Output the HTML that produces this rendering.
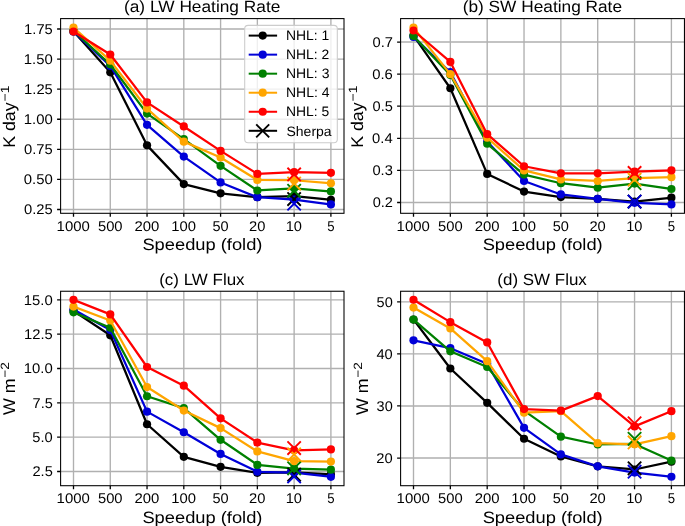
<!DOCTYPE html>
<html><head><meta charset="utf-8"><title>Speedup plots</title><style>html,body{margin:0;padding:0;background:#fff;overflow:hidden;}svg{display:block;will-change:transform;font-family:"Liberation Sans",sans-serif;}</style></head><body>
<svg width="685" height="526" viewBox="0 0 685 526" font-family="Liberation Sans, sans-serif" text-rendering="geometricPrecision" fill="#000"><rect width="685" height="526" fill="#fff"/><clipPath id="clipa"><rect x="60.60" y="18.60" width="283.40" height="194.70"/></clipPath>
<path d="M73.50 18.60V213.30M110.27 18.60V213.30M147.04 18.60V213.30M183.81 18.60V213.30M220.59 18.60V213.30M257.36 18.60V213.30M294.13 18.60V213.30M330.90 18.60V213.30M60.60 209.50H344.00M60.60 179.41H344.00M60.60 149.33H344.00M60.60 119.25H344.00M60.60 89.16H344.00M60.60 59.08H344.00M60.60 29.00H344.00" stroke="#b0b0b0" stroke-width="1.35" fill="none"/>
<path d="M73.50 213.30v3.5M110.27 213.30v3.5M147.04 213.30v3.5M183.81 213.30v3.5M220.59 213.30v3.5M257.36 213.30v3.5M294.13 213.30v3.5M330.90 213.30v3.5M60.60 209.50h-3.5M60.60 179.41h-3.5M60.60 149.33h-3.5M60.60 119.25h-3.5M60.60 89.16h-3.5M60.60 59.08h-3.5M60.60 29.00h-3.5" stroke="#000" stroke-width="1.3" fill="none"/>
<g clip-path="url(#clipa)">
<polyline points="73.50,31.41 110.27,72.32 147.04,145.36 183.81,184.11 220.59,193.37 257.36,197.22 294.13,196.02 330.90,199.75" fill="none" stroke="#000000" stroke-width="2.25" stroke-linejoin="round" stroke-linecap="square"/>
<circle cx="73.50" cy="31.41" r="4.1" fill="#000000"/>
<circle cx="110.27" cy="72.32" r="4.1" fill="#000000"/>
<circle cx="147.04" cy="145.36" r="4.1" fill="#000000"/>
<circle cx="183.81" cy="184.11" r="4.1" fill="#000000"/>
<circle cx="220.59" cy="193.37" r="4.1" fill="#000000"/>
<circle cx="257.36" cy="197.22" r="4.1" fill="#000000"/>
<circle cx="294.13" cy="196.02" r="4.1" fill="#000000"/>
<circle cx="330.90" cy="199.75" r="4.1" fill="#000000"/>
<polyline points="73.50,31.41 110.27,65.94 147.04,124.78 183.81,156.55 220.59,182.42 257.36,197.22 294.13,199.51 330.90,204.44" fill="none" stroke="#0000d8" stroke-width="2.25" stroke-linejoin="round" stroke-linecap="square"/>
<circle cx="73.50" cy="31.41" r="4.1" fill="#0000d8"/>
<circle cx="110.27" cy="65.94" r="4.1" fill="#0000d8"/>
<circle cx="147.04" cy="124.78" r="4.1" fill="#0000d8"/>
<circle cx="183.81" cy="156.55" r="4.1" fill="#0000d8"/>
<circle cx="220.59" cy="182.42" r="4.1" fill="#0000d8"/>
<circle cx="257.36" cy="197.22" r="4.1" fill="#0000d8"/>
<circle cx="294.13" cy="199.51" r="4.1" fill="#0000d8"/>
<circle cx="330.90" cy="204.44" r="4.1" fill="#0000d8"/>
<polyline points="73.50,30.80 110.27,64.50 147.04,113.59 183.81,139.10 220.59,165.82 257.36,190.48 294.13,188.32 330.90,191.45" fill="none" stroke="#008000" stroke-width="2.25" stroke-linejoin="round" stroke-linecap="square"/>
<circle cx="73.50" cy="30.80" r="4.1" fill="#008000"/>
<circle cx="110.27" cy="64.50" r="4.1" fill="#008000"/>
<circle cx="147.04" cy="113.59" r="4.1" fill="#008000"/>
<circle cx="183.81" cy="139.10" r="4.1" fill="#008000"/>
<circle cx="220.59" cy="165.82" r="4.1" fill="#008000"/>
<circle cx="257.36" cy="190.48" r="4.1" fill="#008000"/>
<circle cx="294.13" cy="188.32" r="4.1" fill="#008000"/>
<circle cx="330.90" cy="191.45" r="4.1" fill="#008000"/>
<polyline points="73.50,27.56 110.27,60.65 147.04,108.54 183.81,141.63 220.59,157.51 257.36,179.89 294.13,180.25 330.90,183.26" fill="none" stroke="#ffa500" stroke-width="2.25" stroke-linejoin="round" stroke-linecap="square"/>
<circle cx="73.50" cy="27.56" r="4.1" fill="#ffa500"/>
<circle cx="110.27" cy="60.65" r="4.1" fill="#ffa500"/>
<circle cx="147.04" cy="108.54" r="4.1" fill="#ffa500"/>
<circle cx="183.81" cy="141.63" r="4.1" fill="#ffa500"/>
<circle cx="220.59" cy="157.51" r="4.1" fill="#ffa500"/>
<circle cx="257.36" cy="179.89" r="4.1" fill="#ffa500"/>
<circle cx="294.13" cy="180.25" r="4.1" fill="#ffa500"/>
<circle cx="330.90" cy="183.26" r="4.1" fill="#ffa500"/>
<polyline points="73.50,31.53 110.27,54.51 147.04,102.40 183.81,126.47 220.59,150.89 257.36,173.88 294.13,172.19 330.90,172.79" fill="none" stroke="#ff0000" stroke-width="2.25" stroke-linejoin="round" stroke-linecap="square"/>
<circle cx="73.50" cy="31.53" r="4.1" fill="#ff0000"/>
<circle cx="110.27" cy="54.51" r="4.1" fill="#ff0000"/>
<circle cx="147.04" cy="102.40" r="4.1" fill="#ff0000"/>
<circle cx="183.81" cy="126.47" r="4.1" fill="#ff0000"/>
<circle cx="220.59" cy="150.89" r="4.1" fill="#ff0000"/>
<circle cx="257.36" cy="173.88" r="4.1" fill="#ff0000"/>
<circle cx="294.13" cy="172.19" r="4.1" fill="#ff0000"/>
<circle cx="330.90" cy="172.79" r="4.1" fill="#ff0000"/>
<path d="M287.43 192.33L300.83 205.73M287.43 205.73L300.83 192.33" stroke="#000000" stroke-width="1.9" fill="none"/>
<path d="M287.43 197.02L300.83 210.42M287.43 210.42L300.83 197.02" stroke="#0000d8" stroke-width="1.9" fill="none"/>
<path d="M287.43 184.14L300.83 197.54M287.43 197.54L300.83 184.14" stroke="#008000" stroke-width="1.9" fill="none"/>
<path d="M287.43 176.92L300.83 190.32M287.43 190.32L300.83 176.92" stroke="#ffa500" stroke-width="1.9" fill="none"/>
<path d="M287.43 167.78L300.83 181.18M287.43 181.18L300.83 167.78" stroke="#ff0000" stroke-width="1.9" fill="none"/>
</g>
<rect x="60.60" y="18.60" width="283.40" height="194.70" fill="none" stroke="#000" stroke-width="1.07"/>
<text x="56.61" y="230.80" font-size="14.09" textLength="33.24" lengthAdjust="spacingAndGlyphs">1000</text>
<text x="97.94" y="230.80" font-size="14.09" textLength="24.65" lengthAdjust="spacingAndGlyphs">500</text>
<text x="134.53" y="230.80" font-size="14.09" textLength="24.86" lengthAdjust="spacingAndGlyphs">200</text>
<text x="171.17" y="230.80" font-size="14.09" textLength="24.75" lengthAdjust="spacingAndGlyphs">100</text>
<text x="212.50" y="230.80" font-size="14.09" textLength="16.17" lengthAdjust="spacingAndGlyphs">50</text>
<text x="249.09" y="230.80" font-size="14.09" textLength="16.38" lengthAdjust="spacingAndGlyphs">20</text>
<text x="285.73" y="230.80" font-size="14.09" textLength="16.26" lengthAdjust="spacingAndGlyphs">10</text>
<text x="327.23" y="230.80" font-size="14.09" textLength="7.37" lengthAdjust="spacingAndGlyphs">5</text>
<text x="24.05" y="214.44" font-size="14.09" textLength="28.77" lengthAdjust="spacingAndGlyphs">0.25</text>
<text x="23.77" y="184.36" font-size="14.09" textLength="29.02" lengthAdjust="spacingAndGlyphs">0.50</text>
<text x="24.05" y="154.28" font-size="14.09" textLength="28.77" lengthAdjust="spacingAndGlyphs">0.75</text>
<text x="23.80" y="124.20" font-size="14.09" textLength="28.98" lengthAdjust="spacingAndGlyphs">1.00</text>
<text x="24.09" y="94.11" font-size="14.09" textLength="28.73" lengthAdjust="spacingAndGlyphs">1.25</text>
<text x="23.80" y="64.03" font-size="14.09" textLength="28.98" lengthAdjust="spacingAndGlyphs">1.50</text>
<text x="24.09" y="33.95" font-size="14.09" textLength="28.73" lengthAdjust="spacingAndGlyphs">1.75</text>
<text x="123.97" y="11.90" font-size="16.21" textLength="156.36" lengthAdjust="spacingAndGlyphs">(a) LW Heating Rate</text>
<text x="142.42" y="249.80" font-size="16.42" textLength="120.05" lengthAdjust="spacingAndGlyphs">Speedup (fold)</text>
<g transform="translate(14.90 116.35) rotate(-90)">
<text x="-31.46" y="0.00" font-size="16.95" textLength="45.39" lengthAdjust="spacingAndGlyphs">K day</text>
<text x="14.91" y="-6.30" font-size="11.97" textLength="15.78" lengthAdjust="spacingAndGlyphs">−1</text>
</g>
<clipPath id="clipb"><rect x="400.60" y="18.60" width="283.85" height="194.70"/></clipPath>
<path d="M413.50 18.60V213.30M450.34 18.60V213.30M487.19 18.60V213.30M524.03 18.60V213.30M560.87 18.60V213.30M597.71 18.60V213.30M634.56 18.60V213.30M671.40 18.60V213.30M400.60 202.49H684.45M400.60 170.40H684.45M400.60 138.31H684.45M400.60 106.22H684.45M400.60 74.13H684.45M400.60 42.04H684.45" stroke="#b0b0b0" stroke-width="1.35" fill="none"/>
<path d="M413.50 213.30v3.5M450.34 213.30v3.5M487.19 213.30v3.5M524.03 213.30v3.5M560.87 213.30v3.5M597.71 213.30v3.5M634.56 213.30v3.5M671.40 213.30v3.5M400.60 202.49h-3.5M400.60 170.40h-3.5M400.60 138.31h-3.5M400.60 106.22h-3.5M400.60 74.13h-3.5M400.60 42.04h-3.5" stroke="#000" stroke-width="1.3" fill="none"/>
<g clip-path="url(#clipb)">
<polyline points="413.50,35.62 450.34,88.25 487.19,173.93 524.03,191.58 560.87,197.03 597.71,198.96 634.56,201.53 671.40,197.68" fill="none" stroke="#000000" stroke-width="2.25" stroke-linejoin="round" stroke-linecap="square"/>
<circle cx="413.50" cy="35.62" r="4.1" fill="#000000"/>
<circle cx="450.34" cy="88.25" r="4.1" fill="#000000"/>
<circle cx="487.19" cy="173.93" r="4.1" fill="#000000"/>
<circle cx="524.03" cy="191.58" r="4.1" fill="#000000"/>
<circle cx="560.87" cy="197.03" r="4.1" fill="#000000"/>
<circle cx="597.71" cy="198.96" r="4.1" fill="#000000"/>
<circle cx="634.56" cy="201.53" r="4.1" fill="#000000"/>
<circle cx="671.40" cy="197.68" r="4.1" fill="#000000"/>
<polyline points="413.50,36.91 450.34,72.20 487.19,141.52 524.03,180.99 560.87,194.47 597.71,198.96 634.56,202.81 671.40,204.42" fill="none" stroke="#0000d8" stroke-width="2.25" stroke-linejoin="round" stroke-linecap="square"/>
<circle cx="413.50" cy="36.91" r="4.1" fill="#0000d8"/>
<circle cx="450.34" cy="72.20" r="4.1" fill="#0000d8"/>
<circle cx="487.19" cy="141.52" r="4.1" fill="#0000d8"/>
<circle cx="524.03" cy="180.99" r="4.1" fill="#0000d8"/>
<circle cx="560.87" cy="194.47" r="4.1" fill="#0000d8"/>
<circle cx="597.71" cy="198.96" r="4.1" fill="#0000d8"/>
<circle cx="634.56" cy="202.81" r="4.1" fill="#0000d8"/>
<circle cx="671.40" cy="204.42" r="4.1" fill="#0000d8"/>
<polyline points="413.50,35.94 450.34,75.09 487.19,143.77 524.03,174.57 560.87,183.24 597.71,187.73 634.56,183.56 671.40,189.01" fill="none" stroke="#008000" stroke-width="2.25" stroke-linejoin="round" stroke-linecap="square"/>
<circle cx="413.50" cy="35.94" r="4.1" fill="#008000"/>
<circle cx="450.34" cy="75.09" r="4.1" fill="#008000"/>
<circle cx="487.19" cy="143.77" r="4.1" fill="#008000"/>
<circle cx="524.03" cy="174.57" r="4.1" fill="#008000"/>
<circle cx="560.87" cy="183.24" r="4.1" fill="#008000"/>
<circle cx="597.71" cy="187.73" r="4.1" fill="#008000"/>
<circle cx="634.56" cy="183.56" r="4.1" fill="#008000"/>
<circle cx="671.40" cy="189.01" r="4.1" fill="#008000"/>
<polyline points="413.50,27.60 450.34,74.13 487.19,137.67 524.03,170.40 560.87,179.39 597.71,180.99 634.56,178.10 671.40,177.14" fill="none" stroke="#ffa500" stroke-width="2.25" stroke-linejoin="round" stroke-linecap="square"/>
<circle cx="413.50" cy="27.60" r="4.1" fill="#ffa500"/>
<circle cx="450.34" cy="74.13" r="4.1" fill="#ffa500"/>
<circle cx="487.19" cy="137.67" r="4.1" fill="#ffa500"/>
<circle cx="524.03" cy="170.40" r="4.1" fill="#ffa500"/>
<circle cx="560.87" cy="179.39" r="4.1" fill="#ffa500"/>
<circle cx="597.71" cy="180.99" r="4.1" fill="#ffa500"/>
<circle cx="634.56" cy="178.10" r="4.1" fill="#ffa500"/>
<circle cx="671.40" cy="177.14" r="4.1" fill="#ffa500"/>
<polyline points="413.50,30.49 450.34,61.94 487.19,134.14 524.03,166.23 560.87,173.29 597.71,173.29 634.56,171.68 671.40,170.40" fill="none" stroke="#ff0000" stroke-width="2.25" stroke-linejoin="round" stroke-linecap="square"/>
<circle cx="413.50" cy="30.49" r="4.1" fill="#ff0000"/>
<circle cx="450.34" cy="61.94" r="4.1" fill="#ff0000"/>
<circle cx="487.19" cy="134.14" r="4.1" fill="#ff0000"/>
<circle cx="524.03" cy="166.23" r="4.1" fill="#ff0000"/>
<circle cx="560.87" cy="173.29" r="4.1" fill="#ff0000"/>
<circle cx="597.71" cy="173.29" r="4.1" fill="#ff0000"/>
<circle cx="634.56" cy="171.68" r="4.1" fill="#ff0000"/>
<circle cx="671.40" cy="170.40" r="4.1" fill="#ff0000"/>
<path d="M627.86 194.83L641.26 208.23M627.86 208.23L641.26 194.83" stroke="#000000" stroke-width="1.9" fill="none"/>
<path d="M627.86 194.83L641.26 208.23M627.86 208.23L641.26 194.83" stroke="#0000d8" stroke-width="1.9" fill="none"/>
<path d="M627.86 176.54L641.26 189.94M627.86 189.94L641.26 176.54" stroke="#008000" stroke-width="1.9" fill="none"/>
<path d="M627.86 173.01L641.26 186.41M627.86 186.41L641.26 173.01" stroke="#ffa500" stroke-width="1.9" fill="none"/>
<path d="M627.86 166.27L641.26 179.67M627.86 179.67L641.26 166.27" stroke="#ff0000" stroke-width="1.9" fill="none"/>
</g>
<rect x="400.60" y="18.60" width="283.85" height="194.70" fill="none" stroke="#000" stroke-width="1.07"/>
<text x="396.61" y="230.80" font-size="14.09" textLength="33.24" lengthAdjust="spacingAndGlyphs">1000</text>
<text x="438.01" y="230.80" font-size="14.09" textLength="24.65" lengthAdjust="spacingAndGlyphs">500</text>
<text x="474.68" y="230.80" font-size="14.09" textLength="24.86" lengthAdjust="spacingAndGlyphs">200</text>
<text x="511.38" y="230.80" font-size="14.09" textLength="24.75" lengthAdjust="spacingAndGlyphs">100</text>
<text x="552.78" y="230.80" font-size="14.09" textLength="16.17" lengthAdjust="spacingAndGlyphs">50</text>
<text x="589.44" y="230.80" font-size="14.09" textLength="16.38" lengthAdjust="spacingAndGlyphs">20</text>
<text x="626.16" y="230.80" font-size="14.09" textLength="16.26" lengthAdjust="spacingAndGlyphs">10</text>
<text x="667.73" y="230.80" font-size="14.09" textLength="7.37" lengthAdjust="spacingAndGlyphs">5</text>
<text x="372.69" y="207.44" font-size="14.09" textLength="20.24" lengthAdjust="spacingAndGlyphs">0.2</text>
<text x="372.42" y="175.35" font-size="14.09" textLength="20.43" lengthAdjust="spacingAndGlyphs">0.3</text>
<text x="372.10" y="143.26" font-size="14.09" textLength="20.53" lengthAdjust="spacingAndGlyphs">0.4</text>
<text x="372.52" y="111.17" font-size="14.09" textLength="20.30" lengthAdjust="spacingAndGlyphs">0.5</text>
<text x="372.19" y="79.08" font-size="14.09" textLength="20.67" lengthAdjust="spacingAndGlyphs">0.6</text>
<text x="372.49" y="46.99" font-size="14.09" textLength="20.45" lengthAdjust="spacingAndGlyphs">0.7</text>
<text x="462.70" y="11.90" font-size="16.21" textLength="159.34" lengthAdjust="spacingAndGlyphs">(b) SW Heating Rate</text>
<text x="482.65" y="249.80" font-size="16.42" textLength="120.05" lengthAdjust="spacingAndGlyphs">Speedup (fold)</text>
<g transform="translate(363.00 116.35) rotate(-90)">
<text x="-31.46" y="0.00" font-size="16.95" textLength="45.39" lengthAdjust="spacingAndGlyphs">K day</text>
<text x="14.91" y="-6.30" font-size="11.97" textLength="15.78" lengthAdjust="spacingAndGlyphs">−1</text>
</g>
<clipPath id="clipc"><rect x="60.60" y="291.25" width="283.40" height="194.45"/></clipPath>
<path d="M73.50 291.25V485.70M110.27 291.25V485.70M147.04 291.25V485.70M183.81 291.25V485.70M220.59 291.25V485.70M257.36 291.25V485.70M294.13 291.25V485.70M330.90 291.25V485.70M60.60 471.50H344.00M60.60 437.17H344.00M60.60 402.84H344.00M60.60 368.51H344.00M60.60 334.18H344.00M60.60 299.85H344.00" stroke="#b0b0b0" stroke-width="1.35" fill="none"/>
<path d="M73.50 485.70v3.5M110.27 485.70v3.5M147.04 485.70v3.5M183.81 485.70v3.5M220.59 485.70v3.5M257.36 485.70v3.5M294.13 485.70v3.5M330.90 485.70v3.5M60.60 471.50h-3.5M60.60 437.17h-3.5M60.60 402.84h-3.5M60.60 368.51h-3.5M60.60 334.18h-3.5M60.60 299.85h-3.5" stroke="#000" stroke-width="1.3" fill="none"/>
<g clip-path="url(#clipc)">
<polyline points="73.50,310.84 110.27,335.28 147.04,424.26 183.81,456.81 220.59,466.83 257.36,472.87 294.13,472.32 330.90,474.38" fill="none" stroke="#000000" stroke-width="2.25" stroke-linejoin="round" stroke-linecap="square"/>
<circle cx="73.50" cy="310.84" r="4.1" fill="#000000"/>
<circle cx="110.27" cy="335.28" r="4.1" fill="#000000"/>
<circle cx="147.04" cy="424.26" r="4.1" fill="#000000"/>
<circle cx="183.81" cy="456.81" r="4.1" fill="#000000"/>
<circle cx="220.59" cy="466.83" r="4.1" fill="#000000"/>
<circle cx="257.36" cy="472.87" r="4.1" fill="#000000"/>
<circle cx="294.13" cy="472.32" r="4.1" fill="#000000"/>
<circle cx="330.90" cy="474.38" r="4.1" fill="#000000"/>
<polyline points="73.50,309.60 110.27,330.06 147.04,411.63 183.81,432.23 220.59,453.92 257.36,471.77 294.13,472.60 330.90,476.86" fill="none" stroke="#0000d8" stroke-width="2.25" stroke-linejoin="round" stroke-linecap="square"/>
<circle cx="73.50" cy="309.60" r="4.1" fill="#0000d8"/>
<circle cx="110.27" cy="330.06" r="4.1" fill="#0000d8"/>
<circle cx="147.04" cy="411.63" r="4.1" fill="#0000d8"/>
<circle cx="183.81" cy="432.23" r="4.1" fill="#0000d8"/>
<circle cx="220.59" cy="453.92" r="4.1" fill="#0000d8"/>
<circle cx="257.36" cy="471.77" r="4.1" fill="#0000d8"/>
<circle cx="294.13" cy="472.60" r="4.1" fill="#0000d8"/>
<circle cx="330.90" cy="476.86" r="4.1" fill="#0000d8"/>
<polyline points="73.50,312.35 110.27,327.73 147.04,396.25 183.81,408.06 220.59,439.78 257.36,464.91 294.13,468.62 330.90,469.71" fill="none" stroke="#008000" stroke-width="2.25" stroke-linejoin="round" stroke-linecap="square"/>
<circle cx="73.50" cy="312.35" r="4.1" fill="#008000"/>
<circle cx="110.27" cy="327.73" r="4.1" fill="#008000"/>
<circle cx="147.04" cy="396.25" r="4.1" fill="#008000"/>
<circle cx="183.81" cy="408.06" r="4.1" fill="#008000"/>
<circle cx="220.59" cy="439.78" r="4.1" fill="#008000"/>
<circle cx="257.36" cy="464.91" r="4.1" fill="#008000"/>
<circle cx="294.13" cy="468.62" r="4.1" fill="#008000"/>
<circle cx="330.90" cy="469.71" r="4.1" fill="#008000"/>
<polyline points="73.50,306.58 110.27,320.45 147.04,387.05 183.81,410.53 220.59,428.11 257.36,451.45 294.13,461.20 330.90,461.61" fill="none" stroke="#ffa500" stroke-width="2.25" stroke-linejoin="round" stroke-linecap="square"/>
<circle cx="73.50" cy="306.58" r="4.1" fill="#ffa500"/>
<circle cx="110.27" cy="320.45" r="4.1" fill="#ffa500"/>
<circle cx="147.04" cy="387.05" r="4.1" fill="#ffa500"/>
<circle cx="183.81" cy="410.53" r="4.1" fill="#ffa500"/>
<circle cx="220.59" cy="428.11" r="4.1" fill="#ffa500"/>
<circle cx="257.36" cy="451.45" r="4.1" fill="#ffa500"/>
<circle cx="294.13" cy="461.20" r="4.1" fill="#ffa500"/>
<circle cx="330.90" cy="461.61" r="4.1" fill="#ffa500"/>
<polyline points="73.50,299.85 110.27,314.41 147.04,367.00 183.81,385.68 220.59,418.36 257.36,442.53 294.13,450.35 330.90,449.39" fill="none" stroke="#ff0000" stroke-width="2.25" stroke-linejoin="round" stroke-linecap="square"/>
<circle cx="73.50" cy="299.85" r="4.1" fill="#ff0000"/>
<circle cx="110.27" cy="314.41" r="4.1" fill="#ff0000"/>
<circle cx="147.04" cy="367.00" r="4.1" fill="#ff0000"/>
<circle cx="183.81" cy="385.68" r="4.1" fill="#ff0000"/>
<circle cx="220.59" cy="418.36" r="4.1" fill="#ff0000"/>
<circle cx="257.36" cy="442.53" r="4.1" fill="#ff0000"/>
<circle cx="294.13" cy="450.35" r="4.1" fill="#ff0000"/>
<circle cx="330.90" cy="449.39" r="4.1" fill="#ff0000"/>
<path d="M287.43 467.96L300.83 481.36M287.43 481.36L300.83 467.96" stroke="#000000" stroke-width="1.9" fill="none"/>
<path d="M287.43 469.74L300.83 483.14M287.43 483.14L300.83 469.74" stroke="#0000d8" stroke-width="1.9" fill="none"/>
<path d="M287.43 461.64L300.83 475.04M287.43 475.04L300.83 461.64" stroke="#008000" stroke-width="1.9" fill="none"/>
<path d="M287.43 447.77L300.83 461.17M287.43 461.17L300.83 447.77" stroke="#ffa500" stroke-width="1.9" fill="none"/>
<path d="M287.43 441.32L300.83 454.72M287.43 454.72L300.83 441.32" stroke="#ff0000" stroke-width="1.9" fill="none"/>
</g>
<rect x="60.60" y="291.25" width="283.40" height="194.45" fill="none" stroke="#000" stroke-width="1.07"/>
<text x="56.61" y="503.40" font-size="14.09" textLength="33.24" lengthAdjust="spacingAndGlyphs">1000</text>
<text x="97.94" y="503.40" font-size="14.09" textLength="24.65" lengthAdjust="spacingAndGlyphs">500</text>
<text x="134.53" y="503.40" font-size="14.09" textLength="24.86" lengthAdjust="spacingAndGlyphs">200</text>
<text x="171.17" y="503.40" font-size="14.09" textLength="24.75" lengthAdjust="spacingAndGlyphs">100</text>
<text x="212.50" y="503.40" font-size="14.09" textLength="16.17" lengthAdjust="spacingAndGlyphs">50</text>
<text x="249.09" y="503.40" font-size="14.09" textLength="16.38" lengthAdjust="spacingAndGlyphs">20</text>
<text x="285.73" y="503.40" font-size="14.09" textLength="16.26" lengthAdjust="spacingAndGlyphs">10</text>
<text x="327.23" y="503.40" font-size="14.09" textLength="7.37" lengthAdjust="spacingAndGlyphs">5</text>
<text x="32.45" y="476.45" font-size="14.09" textLength="20.37" lengthAdjust="spacingAndGlyphs">2.5</text>
<text x="32.37" y="442.12" font-size="14.09" textLength="20.41" lengthAdjust="spacingAndGlyphs">5.0</text>
<text x="32.56" y="407.79" font-size="14.09" textLength="20.26" lengthAdjust="spacingAndGlyphs">7.5</text>
<text x="23.80" y="373.46" font-size="14.09" textLength="28.98" lengthAdjust="spacingAndGlyphs">10.0</text>
<text x="24.09" y="339.13" font-size="14.09" textLength="28.73" lengthAdjust="spacingAndGlyphs">12.5</text>
<text x="23.80" y="304.80" font-size="14.09" textLength="28.98" lengthAdjust="spacingAndGlyphs">15.0</text>
<text x="159.15" y="284.70" font-size="16.21" textLength="85.43" lengthAdjust="spacingAndGlyphs">(c) LW Flux</text>
<text x="142.42" y="522.50" font-size="16.42" textLength="120.05" lengthAdjust="spacingAndGlyphs">Speedup (fold)</text>
<g transform="translate(15.30 388.88) rotate(-90)">
<text x="-26.23" y="0.00" font-size="16.95" textLength="36.63" lengthAdjust="spacingAndGlyphs">W m</text>
<text x="11.14" y="-6.30" font-size="11.97" textLength="15.69" lengthAdjust="spacingAndGlyphs">−2</text>
</g>
<clipPath id="clipd"><rect x="400.60" y="291.25" width="283.85" height="194.45"/></clipPath>
<path d="M413.50 291.25V485.70M450.34 291.25V485.70M487.19 291.25V485.70M524.03 291.25V485.70M560.87 291.25V485.70M597.71 291.25V485.70M634.56 291.25V485.70M671.40 291.25V485.70M400.60 458.03H684.45M400.60 405.97H684.45M400.60 353.91H684.45M400.60 301.85H684.45" stroke="#b0b0b0" stroke-width="1.35" fill="none"/>
<path d="M413.50 485.70v3.5M450.34 485.70v3.5M487.19 485.70v3.5M524.03 485.70v3.5M560.87 485.70v3.5M597.71 485.70v3.5M634.56 485.70v3.5M671.40 485.70v3.5M400.60 458.03h-3.5M400.60 405.97h-3.5M400.60 353.91h-3.5M400.60 301.85h-3.5" stroke="#000" stroke-width="1.3" fill="none"/>
<g clip-path="url(#clipd)">
<polyline points="413.50,319.55 450.34,368.49 487.19,402.85 524.03,438.77 560.87,456.47 597.71,466.36 634.56,469.48 671.40,461.67" fill="none" stroke="#000000" stroke-width="2.25" stroke-linejoin="round" stroke-linecap="square"/>
<circle cx="413.50" cy="319.55" r="4.1" fill="#000000"/>
<circle cx="450.34" cy="368.49" r="4.1" fill="#000000"/>
<circle cx="487.19" cy="402.85" r="4.1" fill="#000000"/>
<circle cx="524.03" cy="438.77" r="4.1" fill="#000000"/>
<circle cx="560.87" cy="456.47" r="4.1" fill="#000000"/>
<circle cx="597.71" cy="466.36" r="4.1" fill="#000000"/>
<circle cx="634.56" cy="469.48" r="4.1" fill="#000000"/>
<circle cx="671.40" cy="461.67" r="4.1" fill="#000000"/>
<polyline points="413.50,340.37 450.34,348.18 487.19,363.80 524.03,427.84 560.87,454.39 597.71,466.36 634.56,472.61 671.40,476.77" fill="none" stroke="#0000d8" stroke-width="2.25" stroke-linejoin="round" stroke-linecap="square"/>
<circle cx="413.50" cy="340.37" r="4.1" fill="#0000d8"/>
<circle cx="450.34" cy="348.18" r="4.1" fill="#0000d8"/>
<circle cx="487.19" cy="363.80" r="4.1" fill="#0000d8"/>
<circle cx="524.03" cy="427.84" r="4.1" fill="#0000d8"/>
<circle cx="560.87" cy="454.39" r="4.1" fill="#0000d8"/>
<circle cx="597.71" cy="466.36" r="4.1" fill="#0000d8"/>
<circle cx="634.56" cy="472.61" r="4.1" fill="#0000d8"/>
<circle cx="671.40" cy="476.77" r="4.1" fill="#0000d8"/>
<polyline points="413.50,319.55 450.34,351.31 487.19,366.93 524.03,410.66 560.87,436.69 597.71,444.49 634.56,443.97 671.40,460.63" fill="none" stroke="#008000" stroke-width="2.25" stroke-linejoin="round" stroke-linecap="square"/>
<circle cx="413.50" cy="319.55" r="4.1" fill="#008000"/>
<circle cx="450.34" cy="351.31" r="4.1" fill="#008000"/>
<circle cx="487.19" cy="366.93" r="4.1" fill="#008000"/>
<circle cx="524.03" cy="410.66" r="4.1" fill="#008000"/>
<circle cx="560.87" cy="436.69" r="4.1" fill="#008000"/>
<circle cx="597.71" cy="444.49" r="4.1" fill="#008000"/>
<circle cx="634.56" cy="443.97" r="4.1" fill="#008000"/>
<circle cx="671.40" cy="460.63" r="4.1" fill="#008000"/>
<polyline points="413.50,307.58 450.34,328.40 487.19,361.20 524.03,412.74 560.87,411.18 597.71,443.19 634.56,444.29 671.40,436.16" fill="none" stroke="#ffa500" stroke-width="2.25" stroke-linejoin="round" stroke-linecap="square"/>
<circle cx="413.50" cy="307.58" r="4.1" fill="#ffa500"/>
<circle cx="450.34" cy="328.40" r="4.1" fill="#ffa500"/>
<circle cx="487.19" cy="361.20" r="4.1" fill="#ffa500"/>
<circle cx="524.03" cy="412.74" r="4.1" fill="#ffa500"/>
<circle cx="560.87" cy="411.18" r="4.1" fill="#ffa500"/>
<circle cx="597.71" cy="443.19" r="4.1" fill="#ffa500"/>
<circle cx="634.56" cy="444.29" r="4.1" fill="#ffa500"/>
<circle cx="671.40" cy="436.16" r="4.1" fill="#ffa500"/>
<polyline points="413.50,299.77 450.34,322.15 487.19,342.46 524.03,409.09 560.87,410.66 597.71,396.08 634.56,426.38 671.40,411.18" fill="none" stroke="#ff0000" stroke-width="2.25" stroke-linejoin="round" stroke-linecap="square"/>
<circle cx="413.50" cy="299.77" r="4.1" fill="#ff0000"/>
<circle cx="450.34" cy="322.15" r="4.1" fill="#ff0000"/>
<circle cx="487.19" cy="342.46" r="4.1" fill="#ff0000"/>
<circle cx="524.03" cy="409.09" r="4.1" fill="#ff0000"/>
<circle cx="560.87" cy="410.66" r="4.1" fill="#ff0000"/>
<circle cx="597.71" cy="396.08" r="4.1" fill="#ff0000"/>
<circle cx="634.56" cy="426.38" r="4.1" fill="#ff0000"/>
<circle cx="671.40" cy="411.18" r="4.1" fill="#ff0000"/>
<path d="M627.86 461.59L641.26 474.99M627.86 474.99L641.26 461.59" stroke="#000000" stroke-width="1.9" fill="none"/>
<path d="M627.86 465.02L641.26 478.42M627.86 478.42L641.26 465.02" stroke="#0000d8" stroke-width="1.9" fill="none"/>
<path d="M627.86 432.07L641.26 445.47M627.86 445.47L641.26 432.07" stroke="#008000" stroke-width="1.9" fill="none"/>
<path d="M627.86 435.71L641.26 449.11M627.86 449.11L641.26 435.71" stroke="#ffa500" stroke-width="1.9" fill="none"/>
<path d="M627.86 416.66L641.26 430.06M627.86 430.06L641.26 416.66" stroke="#ff0000" stroke-width="1.9" fill="none"/>
</g>
<rect x="400.60" y="291.25" width="283.85" height="194.45" fill="none" stroke="#000" stroke-width="1.07"/>
<text x="396.61" y="503.40" font-size="14.09" textLength="33.24" lengthAdjust="spacingAndGlyphs">1000</text>
<text x="438.01" y="503.40" font-size="14.09" textLength="24.65" lengthAdjust="spacingAndGlyphs">500</text>
<text x="474.68" y="503.40" font-size="14.09" textLength="24.86" lengthAdjust="spacingAndGlyphs">200</text>
<text x="511.38" y="503.40" font-size="14.09" textLength="24.75" lengthAdjust="spacingAndGlyphs">100</text>
<text x="552.78" y="503.40" font-size="14.09" textLength="16.17" lengthAdjust="spacingAndGlyphs">50</text>
<text x="589.44" y="503.40" font-size="14.09" textLength="16.38" lengthAdjust="spacingAndGlyphs">20</text>
<text x="626.16" y="503.40" font-size="14.09" textLength="16.26" lengthAdjust="spacingAndGlyphs">10</text>
<text x="667.73" y="503.40" font-size="14.09" textLength="7.37" lengthAdjust="spacingAndGlyphs">5</text>
<text x="376.39" y="462.98" font-size="14.09" textLength="16.38" lengthAdjust="spacingAndGlyphs">20</text>
<text x="376.62" y="410.92" font-size="14.09" textLength="16.15" lengthAdjust="spacingAndGlyphs">30</text>
<text x="376.47" y="358.86" font-size="14.09" textLength="16.30" lengthAdjust="spacingAndGlyphs">40</text>
<text x="376.60" y="306.80" font-size="14.09" textLength="16.17" lengthAdjust="spacingAndGlyphs">50</text>
<text x="497.39" y="284.70" font-size="16.21" textLength="89.41" lengthAdjust="spacingAndGlyphs">(d) SW Flux</text>
<text x="482.65" y="522.50" font-size="16.42" textLength="120.05" lengthAdjust="spacingAndGlyphs">Speedup (fold)</text>
<g transform="translate(368.20 388.88) rotate(-90)">
<text x="-26.23" y="0.00" font-size="16.95" textLength="36.63" lengthAdjust="spacingAndGlyphs">W m</text>
<text x="11.14" y="-6.30" font-size="11.97" textLength="15.69" lengthAdjust="spacingAndGlyphs">−2</text>
</g>
<rect x="244.70" y="25.40" width="92.60" height="117.30" rx="3.4" fill="#fff" fill-opacity="0.8" stroke="#cccccc" stroke-width="1.07"/>
<path d="M249.7 35.60H276.1" stroke="#000000" stroke-width="2" stroke-linecap="square"/>
<circle cx="262.7" cy="35.60" r="4.1" fill="#000000"/>
<text x="285.96" y="40.30" font-size="13.67" textLength="43.36" lengthAdjust="spacingAndGlyphs">NHL: 1</text>
<path d="M249.7 54.64H276.1" stroke="#0000d8" stroke-width="2" stroke-linecap="square"/>
<circle cx="262.7" cy="54.64" r="4.1" fill="#0000d8"/>
<text x="285.96" y="59.34" font-size="13.67" textLength="43.26" lengthAdjust="spacingAndGlyphs">NHL: 2</text>
<path d="M249.7 73.68H276.1" stroke="#008000" stroke-width="2" stroke-linecap="square"/>
<circle cx="262.7" cy="73.68" r="4.1" fill="#008000"/>
<text x="285.96" y="78.38" font-size="13.67" textLength="43.45" lengthAdjust="spacingAndGlyphs">NHL: 3</text>
<path d="M249.7 92.72H276.1" stroke="#ffa500" stroke-width="2" stroke-linecap="square"/>
<circle cx="262.7" cy="92.72" r="4.1" fill="#ffa500"/>
<text x="285.95" y="97.42" font-size="13.67" textLength="43.56" lengthAdjust="spacingAndGlyphs">NHL: 4</text>
<path d="M249.7 111.76H276.1" stroke="#ff0000" stroke-width="2" stroke-linecap="square"/>
<circle cx="262.7" cy="111.76" r="4.1" fill="#ff0000"/>
<text x="285.96" y="116.46" font-size="13.67" textLength="43.32" lengthAdjust="spacingAndGlyphs">NHL: 5</text>
<path d="M249.7 130.80H276.1" stroke="#000" stroke-width="2" stroke-linecap="square"/>
<path d="M256.20 124.30L269.20 137.30M256.20 137.30L269.20 124.30" stroke="#000" stroke-width="1.9" fill="none"/>
<text x="286.46" y="135.50" font-size="13.67" textLength="45.18" lengthAdjust="spacingAndGlyphs">Sherpa</text></svg>
</body></html>
